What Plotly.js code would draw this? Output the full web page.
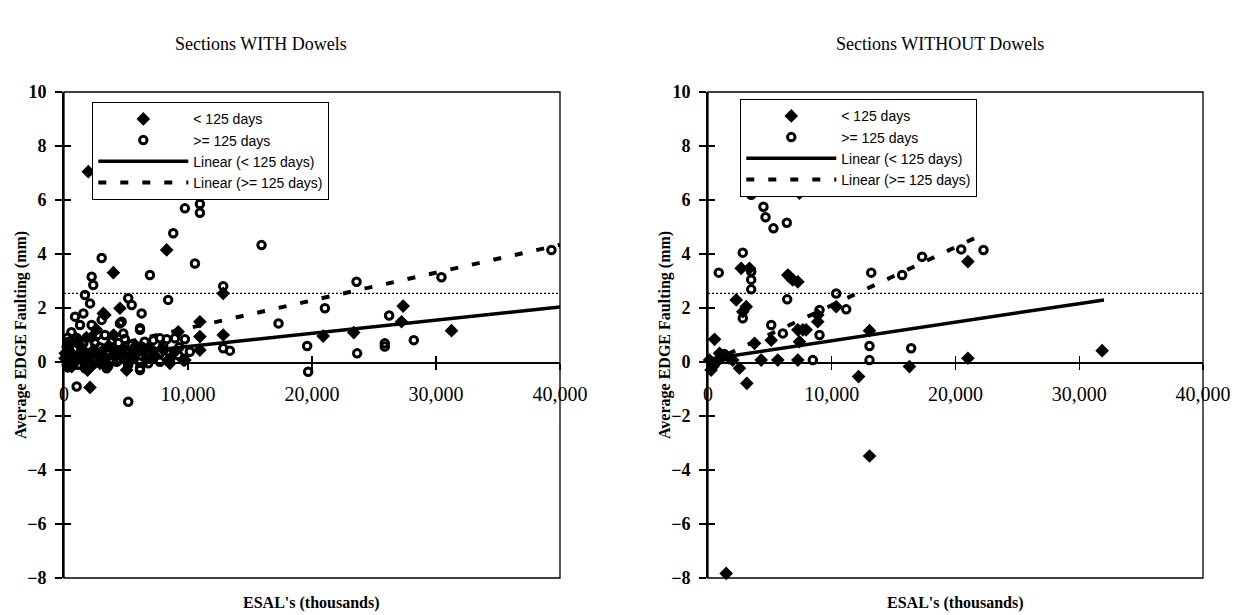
<!DOCTYPE html>
<html><head><meta charset="utf-8">
<script src="https://cdn.plot.ly/plotly-3.0.1.min.js"></script>
<style>body{margin:0;background:#fff}#chart{width:1240px;height:615px}</style>
</head><body><div id="chart"></div>
<script>
// ---------------- DATA ----------------
const panelTitles = ["Sections WITH Dowels", "Sections WITHOUT Dowels"];
const xTitle = "ESAL's (thousands)";
const yTitle = "Average EDGE Faulting (mm)";
const seriesNames = ["< 125 days", ">= 125 days", "Linear (< 125 days)", "Linear (>= 125 days)"];
const xTickVals = [0, 10000, 20000, 30000, 40000];
const xTickText = ["0", "10,000", "20,000", "30,000", "40,000"];
const yTickVals = [-8, -6, -4, -2, 0, 2, 4, 6, 8, 10];
const criterion = 2.54;

// Sections WITH dowels, < 125 days (diamonds)
const withLtX = [1960,8280,3980,12840,4510,3170,10960,10960,10960,12840,9750,8400,9210,620,2100,27350,27220,20900,23370,31250,80,750,2230,3170,3980,4650,5590,6390,8950,9620,100,2900,5050,8540,3300,400,1200,1800,2600,200,1500,4000,7000,1900,
  500,900,1300,1700,2000,2400,2800,3300,3600,4200,4800,5300,5800,6600,7300,7900,300,1100,2200,3500];
const withLtY = [7.05,4.15,3.31,2.54,1.99,1.80,1.49,0.94,0.44,1.00,0.07,0.07,1.12,-0.17,-0.94,2.07,1.49,0.96,1.09,1.16,0.14,-0.05,-0.05,0.44,0.51,0.26,0.32,0.38,0.38,0.07,0.32,-0.05,-0.30,-0.05,1.74,0.60,0.30,0.90,1.20,0.10,0.10,1.00,0.50,-0.30,
  0.30,0.00,0.60,0.35,0.15,0.45,0.20,0.10,0.60,0.30,0.50,0.05,0.60,0.10,0.25,0.50,-0.10,0.80,0.90,-0.10];
// Sections WITH dowels, >= 125 days (open circles)
const withGeX = [9750,10960,10960,8810,15930,10560,3040,2230,6930,2360,12840,1690,2100,8400,5180,5460,6260,890,1560,4650,6130,17300,12840,13380,7200,7740,8280,8950,9750,6130,3570,1690,1020,5180,1290,2230,3040,4510,6130,215,1560,2500,3300,3840,4780,5450,6260,480,1290,2630,3710,4510,5450,6130,6800,7740,8540,1830,3440,4250,5180,6130,6800,7740,9210,10150,300,600,1000,500,900,1100,300,23590,30440,39310,21040,26220,19610,25870,25870,28210,23640,19690,
  700,1500,1900,2300,2900,3500,4000,4400,5000,5800,6500,7000,400,2700,4900,8000,8600,9300];
const withGeY = [5.69,5.85,5.53,4.77,4.33,3.65,3.85,3.16,3.22,2.85,2.81,2.48,2.17,2.30,2.36,2.11,1.80,1.68,1.80,1.49,1.25,1.43,0.51,0.42,0.81,0.88,0.84,0.88,0.84,-0.23,-0.15,-0.23,-0.91,-1.47,1.37,1.37,1.56,1.43,1.19,0.57,0.69,0.69,1.00,0.75,1.06,0.63,0.57,0.38,0.20,0.32,0.07,0.10,0.10,-0.02,0.26,0.32,0.32,-0.23,-0.23,0.01,-0.11,-0.30,-0.05,0.01,0.26,0.38,0.90,1.10,0.90,0.00,0.50,-0.10,-0.20,2.97,3.14,4.15,1.99,1.72,0.59,0.69,0.57,0.81,0.32,-0.36,
  0.20,0.45,0.05,-0.10,0.55,0.40,0.25,0.70,0.35,0.30,0.75,0.15,0.75,1.00,0.85,0.60,0.15,0.55];
// trend lines (WITH)
const withLtTrendX = [0, 40000], withLtTrendY = [0.08, 2.04];
const withGeTrendX = [0, 40000], withGeTrendY = [0.22, 4.34];

// Sections WITHOUT dowels, < 125 days (diamonds)
const woLtX = [7390,2680,3350,6590,6450,6850,7260,2280,3090,2810,10360,8870,8870,5110,3760,7260,7930,7390,530,13050,4300,5640,7260,120,390,930,1200,2000,2540,3140,12170,21000,16280,21000,31850,13050,1470,250,700,1700,7660];
const woLtY = [6.25,3.47,3.47,3.16,3.22,3.04,2.97,2.30,2.05,1.86,2.05,1.49,1.74,0.81,0.69,1.19,1.19,0.75,0.84,1.16,0.07,0.07,0.07,0.07,-0.17,0.32,0.20,0.07,-0.23,-0.79,-0.54,3.72,-0.17,0.14,0.42,-3.48,-7.83,-0.30,0.00,0.15,1.19];
// Sections WITHOUT dowels, >= 125 days (open circles)
const woGeX = [3490,4480,4650,5290,6370,2810,870,3490,3490,13190,3490,6400,10360,11170,9010,2810,5110,6050,9010,13050,8470,13050,15690,17300,20460,22260,16420,1300];
const woGeY = [6.19,5.75,5.36,4.95,5.16,4.05,3.31,3.35,3.05,3.31,2.69,2.32,2.54,1.95,1.93,1.62,1.37,1.06,1.00,0.59,0.07,0.07,3.22,3.90,4.17,4.15,0.51,0.30];
// trend lines (WITHOUT)
const woLtTrendX = [0, 32000], woLtTrendY = [0.10, 2.30];
const woGeTrendX = [0, 22400], woGeTrendY = [-0.05, 4.77];

// ---------------- LAYOUT ----------------
const W = 1240, H = 615;
const plotTop = 92, plotBottom = 578;
const boxes = [[64, 560], [708, 1203]];
const titleCenters = [261, 940];
const yRange = [-8, 10], xRange = [0, 40000];
const yDom = [1 - plotBottom / H, 1 - plotTop / H];
const zeroPos = yDom[0] + (0 - yRange[0]) / (yRange[1] - yRange[0]) * (yDom[1] - yDom[0]);
const serif = "Liberation Serif, Times New Roman, serif";
const sans = "Liberation Sans, Arial, sans-serif";

const diamond = {symbol: 'diamond', size: 10.5, color: '#000'};
const ring = {symbol: 'circle-open', size: 7.5, color: '#000', line: {width: 3, color: '#000'}};

function panelTraces(i, ltX, ltY, geX, geY, tlX, tlY, tgX, tgY) {
  const xa = i === 0 ? 'x' : 'x2', ya = i === 0 ? 'y' : 'y2';
  const lg = i === 0 ? 'legend' : 'legend2';
  const xo = i === 0 ? 'x3' : 'x4', yo = i === 0 ? 'y3' : 'y4';
  return [
    {type: 'scatter', mode: 'lines', x: xRange, y: [criterion, criterion], xaxis: xa, yaxis: ya,
     line: {color: '#000', width: 1.2, dash: '2px,2px'}, showlegend: false, hoverinfo: 'skip'},
    {type: 'scatter', mode: 'markers', name: seriesNames[0], x: ltX, y: ltY, xaxis: xa, yaxis: ya,
     marker: diamond, legend: lg, cliponaxis: false},
    {type: 'scatter', mode: 'markers', name: seriesNames[1], x: geX, y: geY, xaxis: xa, yaxis: ya,
     marker: ring, legend: lg, cliponaxis: false},
    {type: 'scatter', mode: 'lines', name: seriesNames[2], x: tlX, y: tlY, xaxis: xa, yaxis: ya,
     line: {color: '#000', width: 3.5}, legend: lg},
    {type: 'scatter', mode: 'lines', name: seriesNames[3], x: tgX, y: tgY, xaxis: xa, yaxis: ya,
     line: {color: '#000', width: 4, dash: '8px,14px'}, legend: lg},
    {type: 'scatter', mode: 'markers', x: [], y: [], xaxis: xo, yaxis: yo, showlegend: false, hoverinfo: 'skip'}
  ];
}

const data = [].concat(
  panelTraces(0, withLtX, withLtY, withGeX, withGeY, withLtTrendX, withLtTrendY, withGeTrendX, withGeTrendY),
  panelTraces(1, woLtX, woLtY, woGeX, woGeY, woLtTrendX, woLtTrendY, woGeTrendX, woGeTrendY)
);

function xAxis(i, inside) {
  const a = {
    domain: [boxes[i][0] / W, boxes[i][1] / W], range: xRange, anchor: 'free', position: zeroPos,
    showline: true, linecolor: '#000', linewidth: 1.5, showgrid: false, zeroline: false,
    ticks: inside ? 'inside' : 'outside', ticklen: 6, tickwidth: 1.2, tickcolor: '#000',
    tickvals: xTickVals, ticktext: xTickText, showticklabels: !inside, ticklabelstandoff: 7,
    tickfont: {family: serif, size: 20, color: '#000'}, fixedrange: true
  };
  if (inside) a.overlaying = i === 0 ? 'x' : 'x2';
  return a;
}
function yAxis(i, inside) {
  const a = {
    domain: yDom, range: yRange, anchor: inside ? (i === 0 ? 'x3' : 'x4') : (i === 0 ? 'x' : 'x2'),
    showline: true, linecolor: '#000', linewidth: 1.8, showgrid: false, zeroline: false,
    ticks: inside ? 'inside' : 'outside', ticklen: 7, tickwidth: 1.2, tickcolor: '#000',
    tickvals: yTickVals, showticklabels: !inside, ticklabelstandoff: 5,
    tickfont: {family: serif, size: 18, color: '#000', weight: 'bold'}, fixedrange: true
  };
  if (inside) a.overlaying = i === 0 ? 'y' : 'y2';
  return a;
}

const annotations = [];
const shapes = [];
for (let i = 0; i < 2; i++) {
  const cx = (boxes[i][0] + boxes[i][1]) / 2;
  annotations.push({text: panelTitles[i], xref: 'paper', yref: 'paper', x: titleCenters[i] / W, y: 1 - 44 / H,
    showarrow: false, xanchor: 'center', yanchor: 'middle', font: {family: serif, size: 18, color: '#000'}});
  annotations.push({text: '<b>' + xTitle + '</b>', xref: 'paper', yref: 'paper', x: cx / W, y: 1 - 603 / H,
    showarrow: false, xanchor: 'center', yanchor: 'middle', font: {family: serif, size: 16, color: '#000'}});
  annotations.push({text: '<b>' + yTitle + '</b>', xref: 'paper', yref: 'paper', x: (boxes[i][0] - 43) / W,
    y: (yDom[0] + yDom[1]) / 2, textangle: -90, showarrow: false, xanchor: 'center', yanchor: 'middle',
    font: {family: serif, size: 16, color: '#000'}});
  const sx = i === 0 ? 'x domain' : 'x2 domain', sy = i === 0 ? 'y domain' : 'y2 domain';
  shapes.push({type: 'rect', xref: sx, yref: sy, x0: 0, x1: 1, y0: 0, y1: 1, line: {color: '#000', width: 1.3}, layer: 'above'});
}

function legendAt(px, py) {
  return {x: px / W, y: 1 - py / H, xanchor: 'left', yanchor: 'top', bgcolor: '#fff', bordercolor: '#000',
    borderwidth: 1.3, font: {family: sans, size: 14, color: '#000'}, itemwidth: 90, tracegroupgap: 0};
}

const layout = {
  width: W, height: H, margin: {l: 0, r: 0, t: 0, b: 0}, paper_bgcolor: '#fff', plot_bgcolor: 'rgba(0,0,0,0)',
  showlegend: true,
  xaxis: xAxis(0, false), xaxis2: xAxis(1, false), xaxis3: xAxis(0, true), xaxis4: xAxis(1, true),
  yaxis: yAxis(0, false), yaxis2: yAxis(1, false), yaxis3: yAxis(0, true), yaxis4: yAxis(1, true),
  legend: legendAt(92, 102), legend2: legendAt(740, 99),
  annotations: annotations, shapes: shapes
};

Plotly.newPlot('chart', data, layout, {staticPlot: true, displayModeBar: false});
</script></body></html>
